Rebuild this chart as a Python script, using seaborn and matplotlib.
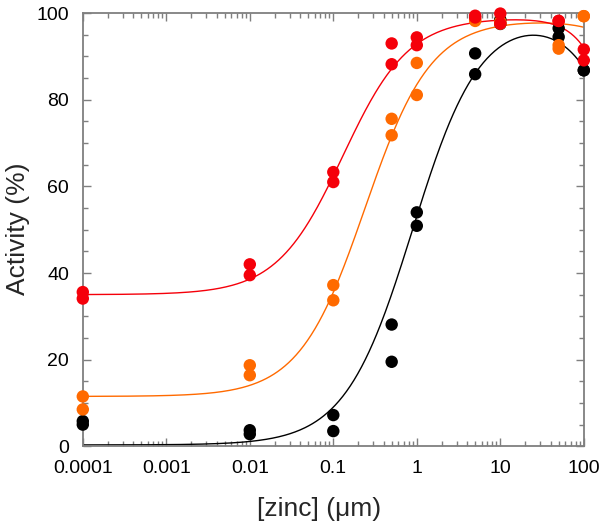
import numpy as np
import pandas as pd
import matplotlib
matplotlib.use("Agg")
import matplotlib.pyplot as plt
import matplotlib.ticker as mticker
import seaborn as sns

# measured points, two replicates per concentration
zinc = [0.0001, 0.0001, 0.01, 0.01, 0.1, 0.1, 0.5, 0.5, 1, 1, 5, 5, 10, 10, 50, 50, 100, 100]
black = [5.8, 5.0, 3.7, 2.8, 7.2, 3.5, 28.1, 19.5, 54.0, 50.9, 90.7, 85.9, 98.5, 97.5, 96.5, 94.5, 86.8, 86.8]
orange = [11.5, 8.5, 18.7, 16.4, 37.2, 33.7, 75.6, 71.8, 88.5, 81.1, 98.5, 98.2, 98.0, 97.6, 92.6, 91.8, 99.3, 99.3]
red = [35.6, 34.1, 42.0, 39.5, 63.3, 61.0, 93.0, 88.2, 94.4, 92.6, 99.4, 99.0, 99.9, 97.6, 98.2, 98.2, 91.6, 89.1]

series = ["black", "orange", "red"]
colors = {"black": "#000000", "orange": "#ff6a00", "red": "#f5000a"}

# fitted curve parameters: bottom, top, EC50, hill, Ki, inhibition slope
bottom = [0.3, 11.5, 35.0]
top = [100.0, 98.5, 99.0]
ec50 = [0.894, 0.24, 0.13]
hill = [1.07, 1.1, 1.1]
ki = [505.0, 2300.0, 390.0]
hill_inh = [1.23, 1.3, 1.9]

xticks = [0.0001, 0.001, 0.01, 0.1, 1, 10, 100]
xtick_labels = ["0.0001", "0.001", "0.01", "0.1", "1", "10", "100"]
yticks = [0, 20, 40, 60, 80, 100]

pts = pd.DataFrame({
    "zinc": zinc * 3,
    "activity": black + orange + red,
    "series": ["black"] * len(zinc) + ["orange"] * len(zinc) + ["red"] * len(zinc),
})

xs = np.logspace(-4, 2, 400)
curves = []
for i, name in enumerate(series):
    act = bottom[i] + (top[i] - bottom[i]) / (1 + (ec50[i] / xs) ** hill[i])
    y = act / (1 + (xs / ki[i]) ** hill_inh[i])
    curves.append(pd.DataFrame({"zinc": xs, "activity": y, "series": name}))
fit = pd.concat(curves, ignore_index=True)

sns.set_style("white")
plt.rcParams["font.family"] = ["Liberation Sans", "DejaVu Sans"]

fig = plt.figure(figsize=(6, 5.25), dpi=100)
ax = fig.add_axes([0.138, 0.150, 0.835, 0.825])

sns.lineplot(data=fit, x="zinc", y="activity", hue="series", palette=colors,
             linewidth=1.0, legend=False, ax=ax)
sns.scatterplot(data=pts, x="zinc", y="activity", hue="series", palette=colors,
                s=80, edgecolor="none", legend=False, ax=ax, clip_on=False, zorder=3)

ax.set_xscale("log")
ax.set_xlim(0.0001, 100)
ax.set_ylim(0, 100)

ax.set_xticks(xticks, labels=xtick_labels)
ax.xaxis.set_minor_locator(mticker.LogLocator(base=10, subs=np.arange(2, 10), numticks=20))
ax.xaxis.set_minor_formatter(mticker.NullFormatter())
ax.set_yticks(yticks, labels=[str(v) for v in yticks])
ax.yaxis.set_minor_locator(mticker.MultipleLocator(5))

for sp in ax.spines.values():
    sp.set_visible(True)
    sp.set_color("#7f7f7f")
    sp.set_linewidth(1.3)

ax.tick_params(which="both", direction="in", top=True, right=True, bottom=True, left=True,
               color="#7f7f7f", width=1.0, labelsize=14, labelcolor="black")
ax.tick_params(which="major", length=6, pad=10)
ax.tick_params(which="minor", length=3.5)

ax.set_xlabel("[zinc] (\u03bcm)", fontsize=19)
ax.set_ylabel("Activity (%)", fontsize=19)
ax.xaxis.set_label_coords(0.471, -0.118)
ax.yaxis.set_label_coords(-0.105, 0.503)

fig.savefig("out.png", dpi=100)
